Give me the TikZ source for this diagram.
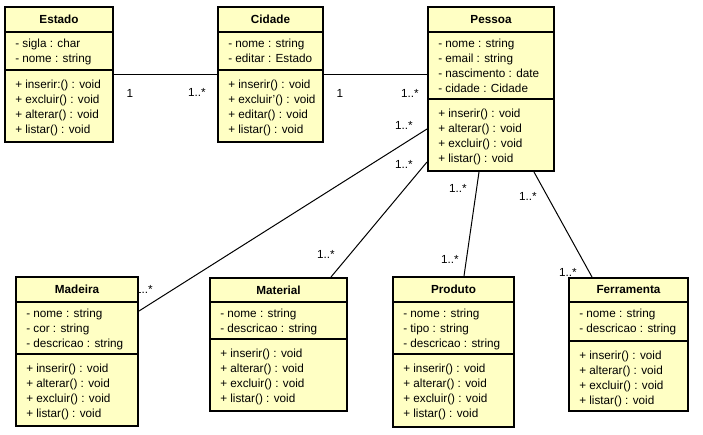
\documentclass[tikz,border=0pt]{standalone}
\usepackage{fontspec}
\setmainfont{Liberation Sans}
\usetikzlibrary{fit,calc}
\definecolor{classfill}{RGB}{255,255,196}
\newcommand{\umlclass}[9]{%
  % #1 name, #2 x1, #3 y1, #4 x2, #5 y2, #6 sep1, #7 sep2, #8 title, #9 attrs
  \node[classbox, fit={(#2,#3)(#4,#5)}] (#1) {};
  \draw[sepline] (#2,#6) -- (#4,#6);
  \draw[sepline] (#2,#7) -- (#4,#7);
  \node[titletext] (#1-title) at ({(#2+#4)/2},{(#3+#6)/2}) {#8};
  \foreach \t [count=\i] in {#9} {
    \node[membertext] (#1-a\i) at ({#2+10},{#6+15.5+(\i-1)*15}) {\t};
  }
}
\newcommand{\umlmethods}[4]{%
  % #1 name, #2 x1, #3 sep2, #4 list
  \foreach \t [count=\i] in {#4} {
    \node[membertext] (#1-m\i) at ({#2+10},{#3+18.2+(\i-1)*15}) {\t};
  }
}
\tikzset{
  classbox/.style={draw=black, line width=1.5pt, fill=classfill, inner sep=0pt},
  sepline/.style={black, line width=0.9pt},
  titletext/.style={font=\fontsize{8.8}{10}\selectfont\bfseries, inner sep=0pt},
  membertext/.style={font=\fontsize{8.8}{10}\selectfont, anchor=base west, inner sep=0pt},
  multlabel/.style={font=\fontsize{8.8}{10}\selectfont, inner sep=0pt},
  assoc/.style={black, line width=0.75pt},
}
\begin{document}
\begin{tikzpicture}[x=0.75pt,y=-0.75pt]
\useasboundingbox[fill=white] (0,0) rectangle (703,435);

% multiplicity labels (drawn first so boxes may overlap them)
\node[multlabel] (l1) at (130,93) {1};
\node[multlabel] (l2) at (197,92) {1..*};
\node[multlabel] (l3) at (340,93) {1};
\node[multlabel] (l4) at (410,93) {1..*};
\node[multlabel] (l5) at (404,125) {1..*};
\node[multlabel] (l6) at (404,164) {1..*};
\node[multlabel] (l7) at (144,289) {1..*};
\node[multlabel] (l8) at (326,254) {1..*};
\node[multlabel] (l9) at (458,188) {1..*};
\node[multlabel] (l10) at (450,259) {1..*};
\node[multlabel] (l11) at (528,196) {1..*};
\node[multlabel] (l12) at (568,272) {1..*};

% classes
\umlclass{estado}{5}{7}{113}{142}{32}{70}{Estado}{- sigla : char,- nome : string}
\umlmethods{estado}{5}{70}{+ inserir:() : void,+ excluir() : void,+ alterar() : void,+ listar() : void}

\umlclass{cidade}{218}{7}{323}{142}{32}{70}{Cidade}{- nome : string,- editar : Estado}
\umlmethods{cidade}{218}{70}{+ inserir() : void,+ excluir'() : void,+ editar() : void,+ listar() : void}

\umlclass{pessoa}{428}{7}{554}{171}{32}{99}{Pessoa}{- nome : string,- email : string,- nascimento : date,- cidade : Cidade}
\umlmethods{pessoa}{428}{99}{+ inserir() : void,+ alterar() : void,+ excluir() : void,+ listar() : void}

\umlclass{madeira}{16}{277}{138}{426}{302}{354}{Madeira}{- nome : string,- cor : string,- descricao : string}
\umlmethods{madeira}{16}{354}{+ inserir() : void,+ alterar() : void,+ excluir() : void,+ listar() : void}

\umlclass{material}{210}{278}{347}{411}{302}{339}{Material}{- nome : string,- descricao : string}
\umlmethods{material}{210}{339}{+ inserir() : void,+ alterar() : void,+ excluir() : void,+ listar() : void}

\umlclass{produto}{393}{277}{514}{427}{302}{354}{Produto}{- nome : string,- tipo : string,- descricao : string}
\umlmethods{produto}{393}{354}{+ inserir() : void,+ alterar() : void,+ excluir() : void,+ listar() : void}

\umlclass{ferramenta}{569}{278}{688}{411}{302}{341}{Ferramenta}{- nome : string,- descricao : string}
\umlmethods{ferramenta}{569}{341}{+ inserir() : void,+ alterar() : void,+ excluir() : void,+ listar() : void}

% associations
\draw[assoc] (estado.east) -- (cidade.west);
\draw[assoc] (cidade.east) -- (cidade.east -| pessoa.west);
\draw[assoc] ($(pessoa.north west)+(0,123)$) -- ($(madeira.north east)+(0,35)$);
\draw[assoc] ($(pessoa.north west)+(0,156)$) -- ($(material.north east)+(-17,0)$);
\draw[assoc] ($(pessoa.south west)+(52,0)$) -- ($(produto.north west)+(72,0)$);
\draw[assoc] ($(pessoa.south west)+(107,0)$) -- ($(ferramenta.north west)+(24,0)$);
\end{tikzpicture}
\end{document}
